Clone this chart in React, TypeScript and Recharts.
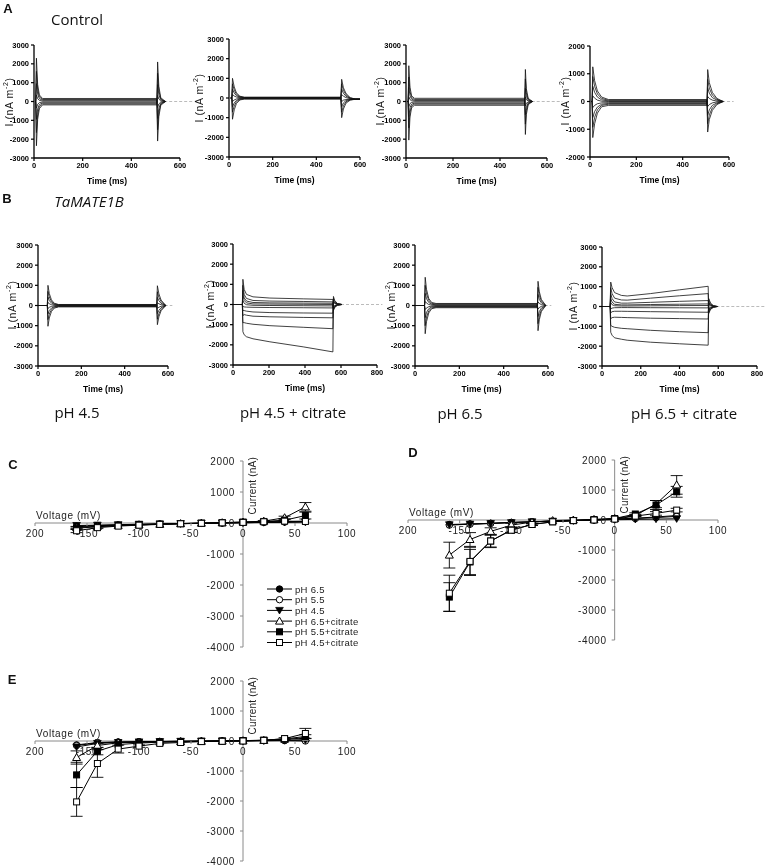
import React from 'react';
import { LineChart, Line, XAxis, YAxis, ReferenceLine, ReferenceDot, ErrorBar } from 'recharts';

// ---- panel A / B : current traces (nA m-2) ----
const a1Times = [5, 7, 10, 15, 22, 35, 505, 508, 513, 521, 540];
const a1Sweeps = [
  [0, 0, 2300, 900, 350, 160, 160, -2100, -800, -200, 0],
  [0, 0, 1600, 650, 250, 110, 110, -1500, -580, -140, 0],
  [0, 0, 950, 400, 150, 70, 70, -900, -350, -90, 0],
  [0, 0, 350, 150, 60, 25, 25, -330, -130, -30, 0],
  [0, 0, -350, -150, -60, -30, -30, 330, 130, 30, 0],
  [0, 0, -950, -400, -160, -80, -80, 900, 350, 90, 0],
  [0, 0, -1650, -680, -270, -130, -130, 1500, 580, 140, 0],
  [0, 0, -2350, -950, -380, -180, -180, 2100, 800, 200, 0],
];

const a2Times = [8, 13, 16, 24, 34, 50, 70, 512, 516, 524, 536, 555, 580, 600];
const a2Sweeps = [
  [0, 0, 1000, 560, 260, 90, 40, 40, -1000, -560, -260, -110, -60, -60],
  [0, 0, 720, 400, 190, 65, 30, 30, -720, -400, -190, -90, -60, -60],
  [0, 0, 450, 250, 120, 40, 15, 15, -450, -250, -130, -75, -60, -60],
  [0, 0, 180, 100, 50, 15, 5, 5, -180, -110, -80, -65, -60, -60],
  [0, 0, -180, -100, -50, -20, -10, -10, 180, 90, 20, -40, -60, -60],
  [0, 0, -450, -250, -120, -45, -25, -25, 450, 240, 90, -20, -60, -60],
  [0, 0, -720, -400, -190, -70, -40, -40, 720, 390, 160, 0, -60, -60],
  [0, 0, -1080, -600, -280, -100, -55, -55, 950, 520, 230, 20, -60, -60],
];

const a3Times = [5, 9, 12, 17, 24, 36, 505, 508, 512, 520, 538];
const a3Sweeps = [
  [0, 0, 1900, 750, 300, 170, 170, -1750, -700, -170, 0],
  [0, 0, 1300, 520, 210, 110, 110, -1200, -480, -120, 0],
  [0, 0, 750, 300, 120, 60, 60, -700, -280, -70, 0],
  [0, 0, 250, 100, 40, 20, 20, -230, -90, -25, 0],
  [0, 0, -280, -110, -50, -30, -30, 250, 100, 25, 0],
  [0, 0, -800, -320, -140, -90, -90, 700, 280, 70, 0],
  [0, 0, -1400, -560, -230, -140, -140, 1200, 480, 120, 0],
  [0, 0, -2050, -820, -330, -200, -200, 1700, 680, 170, 0],
];

const a4Times = [5, 9, 12, 20, 32, 50, 80, 505, 508, 515, 528, 548, 575];
const a4Sweeps = [
  [0, 0, 1250, 750, 380, 160, 70, 70, -1100, -650, -320, -110, 0],
  [0, 0, 900, 540, 270, 110, 45, 45, -800, -480, -230, -80, 0],
  [0, 0, 550, 330, 160, 60, 20, 20, -500, -300, -140, -50, 0],
  [0, 0, 200, 120, 50, 10, 0, 0, -180, -110, -50, -15, 0],
  [0, 0, -220, -140, -80, -50, -40, -40, 180, 110, 50, 15, 0],
  [0, 0, -580, -360, -200, -100, -70, -70, 500, 300, 140, 50, 0],
  [0, 0, -930, -570, -300, -140, -100, -100, 800, 480, 230, 80, 0],
  [0, 0, -1300, -800, -420, -190, -140, -140, 1150, 680, 330, 110, 0],
];

const b1Times = [0, 43, 46, 52, 62, 75, 95, 548, 551, 558, 568, 590];
const b1Sweeps = [
  [0, 0, 1000, 600, 280, 110, 50, 50, -950, -560, -260, 0],
  [0, 0, 700, 420, 200, 80, 35, 35, -680, -400, -190, 0],
  [0, 0, 420, 250, 120, 50, 20, 20, -400, -240, -110, 0],
  [0, 0, 150, 90, 40, 15, 5, 5, -140, -85, -40, 0],
  [0, 0, -150, -90, -45, -20, -10, -10, 140, 85, 40, 0],
  [0, 0, -420, -250, -130, -60, -30, -30, 400, 240, 110, 0],
  [0, 0, -700, -420, -210, -90, -50, -50, 680, 400, 190, 0],
  [0, 0, -1030, -620, -300, -130, -70, -70, 980, 580, 270, 0],
];

const b2Times = [0, 52, 55, 62, 75, 111, 205, 390, 555, 558, 565, 580, 605];
const b2Sweeps = [
  [0, 0, 1250, 750, 500, 380, 320, 280, 250, -300, -150, -40, 0],
  [0, 0, 950, 500, 300, 200, 170, 150, 130, -250, -120, -30, 0],
  [0, 0, 700, 330, 170, 100, 80, 70, 60, -200, -100, -20, 0],
  [0, 0, 450, 200, 80, 30, 20, 10, 0, -150, -70, -15, 0],
  [0, 0, 200, 60, -10, -40, -50, -60, -70, -100, -50, -10, 0],
  [0, 0, -100, -120, -130, -140, -150, -160, -170, 100, 50, 10, 0],
  [0, 0, -300, -300, -330, -370, -400, -420, -430, 150, 80, 20, 0],
  [0, 0, -550, -500, -530, -580, -610, -640, -660, 200, 100, 25, 0],
  [0, 0, -900, -900, -930, -980, -1050, -1130, -1200, 300, 150, 35, 0],
  [0, 0, -1350, -1500, -1600, -1700, -1850, -2100, -2350, 400, 200, 50, 0],
];

const b3Times = [0, 43, 46, 52, 62, 75, 95, 552, 555, 561, 570, 590];
const b3Sweeps = [
  [0, 0, 1400, 800, 350, 150, 100, 100, -1250, -700, -300, 0],
  [0, 0, 1000, 570, 250, 110, 70, 70, -900, -500, -220, 0],
  [0, 0, 600, 340, 150, 60, 35, 35, -550, -300, -130, 0],
  [0, 0, 200, 120, 50, 20, 10, 10, -180, -100, -45, 0],
  [0, 0, -200, -120, -60, -30, -20, -20, 180, 100, 45, 0],
  [0, 0, -600, -340, -160, -70, -50, -50, 550, 300, 130, 0],
  [0, 0, -1000, -570, -260, -120, -80, -80, 900, 500, 220, 0],
  [0, 0, -1400, -800, -370, -160, -110, -110, 1200, 680, 300, 0],
];

const b4Times = [0, 42, 45, 52, 65, 100, 130, 250, 400, 548, 551, 560, 575, 595];
const b4Sweeps = [
  [0, 0, 1230, 950, 700, 560, 530, 650, 840, 1020, -350, -150, -40, 0],
  [0, 0, 950, 650, 420, 330, 320, 420, 540, 650, -280, -120, -30, 0],
  [0, 0, 650, 400, 230, 170, 170, 210, 260, 300, -200, -90, -20, 0],
  [0, 0, 400, 220, 110, 80, 80, 100, 115, 130, -150, -60, -15, 0],
  [0, 0, 200, 90, 40, 25, 25, 35, 45, 50, -100, -40, -10, 0],
  [0, 0, -120, -80, -60, -55, -55, -60, -65, -70, 100, 40, 10, 0],
  [0, 0, -320, -260, -240, -240, -245, -260, -275, -290, 150, 60, 15, 0],
  [0, 0, -620, -560, -540, -550, -560, -590, -610, -630, 200, 90, 20, 0],
  [0, 0, -950, -1000, -1050, -1100, -1120, -1200, -1270, -1320, 300, 130, 30, 0],
  [0, 0, -1300, -1450, -1580, -1650, -1700, -1800, -1880, -1950, 400, 180, 40, 0],
];

const timeTicks600 = [0, 200, 400, 600];
const timeTicks800 = [0, 200, 400, 600, 800];
const iTicks3000 = [-3000, -2000, -1000, 0, 1000, 2000, 3000];
const iTicks2000 = [-2000, -1000, 0, 1000, 2000];

// ---- panels C, D, E : I-V curves (nA) ----
const voltages = [-160, -140, -120, -100, -80, -60, -40, -20, 0, 20, 40, 60];
const voltTicks = [-200, -150, -100, -50, 0, 50, 100];
const voltTickLabels = ['200', '-150', '-100', '-50', '0', '50', '100'];
const ivTicks = [2000, 1000, 0, -1000, -2000, -3000, -4000];
const seriesNames = ['pH 6.5', 'pH 5.5', 'pH 4.5', 'pH 6.5+citrate', 'pH 5.5+citrate', 'pH 4.5+citrate'];

const cPh65 = [-120, -90, -70, -50, -35, -20, -10, 0, 10, 20, 40, 60];
const cPh55 = [-100, -80, -60, -45, -30, -20, -10, 0, 10, 20, 30, 40];
const cPh45 = [-80, -70, -55, -40, -30, -20, -10, 0, 10, 15, 20, 30];
const cPh65Cit = [-150, -110, -80, -60, -40, -20, -5, 10, 30, 60, 170, 520];
const cPh55Cit = [-170, -120, -85, -60, -40, -20, -5, 10, 30, 50, 90, 240];
const cPh45Cit = [-250, -150, -100, -70, -45, -25, -10, 5, 20, 40, 60, 50];
const cErr65Cit = [40, 0, 0, 0, 0, 0, 0, 0, 0, 20, 50, 140];
const cErr55Cit = [40, 0, 0, 0, 0, 0, 0, 0, 0, 0, 40, 110];
const cErr45Cit = [60, 30, 0, 0, 0, 0, 0, 0, 0, 0, 0, 0];

const dPh65 = [-150, -130, -110, -80, -60, -40, -20, 0, 30, 60, 100, 150];
const dPh55 = [-170, -140, -110, -80, -60, -40, -20, 0, 30, 50, 80, 120];
const dPh45 = [-160, -140, -120, -90, -60, -40, -20, 0, 10, 20, 30, 40];
const dPh65Cit = [-1170, -650, -380, -170, -70, -20, 0, 20, 50, 150, 530, 1170];
const dPh55Cit = [-2570, -1400, -700, -330, -150, -60, -20, 10, 50, 200, 500, 940];
const dPh45Cit = [-2440, -1380, -700, -340, -150, -60, -20, 0, 30, 130, 220, 330];
const dErr65Cit = [430, 230, 120, 60, 0, 0, 0, 0, 0, 30, 120, 310];
const dErr55Cit = [480, 420, 200, 80, 30, 0, 0, 0, 0, 40, 150, 180];
const dErr45Cit = [600, 470, 220, 80, 30, 0, 0, 0, 0, 20, 60, 60];

const ePh65 = [-130, -50, -30, -20, -15, -10, -5, 0, 10, 20, 30, 40];
const ePh55 = [-150, -60, -40, -30, -20, -10, -5, 0, 10, 10, 10, 0];
const ePh45 = [-200, -80, -50, -30, -20, -10, -5, 0, 5, 10, 20, 30];
const ePh65Cit = [-550, -150, -60, -40, -30, -20, -10, 0, 10, 20, 60, 100];
const ePh55Cit = [-1130, -340, -120, -70, -40, -25, -10, 0, 10, 30, 70, 150];
const ePh45Cit = [-2030, -750, -270, -170, -80, -50, -20, -10, 0, 20, 80, 250];
const eErr65Cit = [220, 60, 0, 0, 0, 0, 0, 0, 0, 0, 0, 0];
const eErr55Cit = [420, 120, 0, 0, 0, 0, 0, 0, 0, 0, 0, 60];
const eErr45Cit = [480, 460, 130, 40, 0, 0, 0, 0, 0, 0, 30, 170];

const GP_FONT = "'Liberation Sans', Arial, sans-serif";
const TEXT_FONT = "'Open Sans', 'Noto Sans', sans-serif";

const tickStyle = { fontSize: 7.5, fontWeight: 700, fill: '#000', fontFamily: GP_FONT };

const TracePanel = ({ times, sweeps, box, xMax, yMax, dash, yLab }) => {
  const [L, R, T, B] = box;
  const mL = 40, mR = 30, mT = 10, xH = 30;
  const data = times.map((t, i) => {
    const row = { t };
    sweeps.forEach((s, k) => { row['s' + k] = s[i]; });
    return row;
  });
  return (
    <>
      <div style={{ position: 'absolute', left: L - mL, top: T - mT }}>
        <LineChart width={R - L + mL + mR} height={B - T + mT + xH} data={data}
          margin={{ top: mT, right: mR, left: 0, bottom: 0 }}>
          <XAxis type="number" dataKey="t" domain={[0, xMax]} ticks={xMax === 800 ? timeTicks800 : timeTicks600}
            allowDataOverflow height={xH} tickSize={3} tickMargin={2}
            axisLine={{ stroke: '#000', strokeWidth: 1.3 }} tickLine={{ stroke: '#000', strokeWidth: 1.2 }}
            tick={tickStyle}
            label={{ value: 'Time (ms)', position: 'insideBottom', offset: 4,
              style: { fontSize: 8.5, fontWeight: 700, fill: '#000', fontFamily: GP_FONT } }} />
          <YAxis type="number" domain={[-yMax, yMax]} ticks={yMax === 2000 ? iTicks2000 : iTicks3000}
            allowDataOverflow width={mL} tickSize={3} tickMargin={2}
            axisLine={{ stroke: '#000', strokeWidth: 1.3 }} tickLine={{ stroke: '#000', strokeWidth: 1.2 }}
            tick={tickStyle} />
          {dash && (
            <ReferenceLine segment={[{ x: dash[0], y: 0 }, { x: dash[1], y: 0 }]} ifOverflow="visible"
              stroke="#aaa" strokeWidth={0.8} strokeDasharray="3 2" />
          )}
          {sweeps.map((_, k) => (
            <Line key={k} type="linear" dataKey={'s' + k} stroke="#111" strokeWidth={0.8}
              dot={false} isAnimationActive={false} />
          ))}
        </LineChart>
      </div>
      <div style={{ position: 'absolute', left: yLab[0], top: yLab[1], transform: 'translate(-50%, -50%) rotate(-90deg)',
        fontSize: 10.5, letterSpacing: 0.6, whiteSpace: 'nowrap', fontFamily: GP_FONT, color: '#111', lineHeight: 1 }}>
        I (nA m<sup style={{ fontSize: 7 }}>-2</sup>)
      </div>
    </>
  );
};

const Marker = ({ kind, cx, cy }) => {
  const s = 3;
  if (kind === 'circleFill' || kind === 'circleOpen')
    return <circle cx={cx} cy={cy} r={3.2} fill={kind === 'circleFill' ? '#000' : '#fff'} stroke="#000" strokeWidth={1} />;
  if (kind === 'triDown')
    return <polygon points={`${cx - 3.8},${cy - 3} ${cx + 3.8},${cy - 3} ${cx},${cy + 3.6}`} fill="#000" stroke="#000" strokeWidth={0.8} />;
  if (kind === 'triUp')
    return <polygon points={`${cx - 4},${cy + 3} ${cx + 4},${cy + 3} ${cx},${cy - 4}`} fill="#fff" stroke="#000" strokeWidth={1} />;
  return <rect x={cx - s} y={cy - s} width={2 * s} height={2 * s}
    fill={kind === 'sqFill' ? '#000' : '#fff'} stroke="#000" strokeWidth={1} />;
};

const markerKinds = ['circleFill', 'circleOpen', 'triDown', 'triUp', 'sqFill', 'sqOpen'];
const ivKeys = ['p65', 'p55', 'p45', 'p65c', 'p55c', 'p45c'];
const errKeys = [null, null, null, 'e65c', 'e55c', 'e45c'];

const IV_FONT = { fontFamily: GP_FONT, fontSize: 10, fill: '#222', letterSpacing: 0.6 };
const AXIS_GREY = '#8a8a8a';

const IVPanel = ({ series, errs, box }) => {
  const [L, R, T, B] = box;
  const m = 12;
  const data = voltages.map((v, i) => {
    const row = { v };
    ivKeys.forEach((k, j) => { row[k] = series[j][i]; });
    errKeys.forEach((k, j) => { if (k) row[k] = errs[j - 3][i]; });
    return row;
  });
  return (
    <div style={{ position: 'absolute', left: L - m, top: T - m }}>
      <LineChart width={R - L + 2 * m} height={B - T + 2 * m} data={data}
        margin={{ top: m, right: m, left: m, bottom: m }}>
        <XAxis type="number" dataKey="v" domain={[-200, 100]} hide allowDataOverflow />
        <YAxis type="number" domain={[-4000, 2000]} hide allowDataOverflow />
        <ReferenceLine y={0} stroke={AXIS_GREY} strokeWidth={1} />
        <ReferenceLine x={0} stroke={AXIS_GREY} strokeWidth={1} />
        {voltTicks.map((v, i) => (
          <ReferenceDot key={'x' + v} x={v} y={0} r={0} ifOverflow="visible"
            shape={(p) => (
              <g>
                <line x1={p.cx} y1={p.cy} x2={p.cx} y2={p.cy + 3} stroke={AXIS_GREY} />
                <text x={p.cx} y={p.cy + 14} textAnchor="middle" style={IV_FONT}>{voltTickLabels[i]}</text>
              </g>
            )} />
        ))}
        {ivTicks.map((v) => (
          <ReferenceDot key={'y' + v} x={0} y={v} r={0} ifOverflow="visible"
            shape={(p) => (
              <g>
                <line x1={p.cx - 3} y1={p.cy} x2={p.cx} y2={p.cy} stroke={AXIS_GREY} />
                <text x={p.cx - 8} y={p.cy + 3.5} textAnchor="end" style={IV_FONT}>{v}</text>
              </g>
            )} />
        ))}
        <ReferenceDot x={-200} y={0} r={0} ifOverflow="visible"
          shape={(p) => <text x={p.cx + 1} y={p.cy - 4} style={IV_FONT}>Voltage (mV)</text>} />
        <ReferenceDot x={0} y={2000} r={0} ifOverflow="visible"
          shape={(p) => (
            <text transform={`translate(${p.cx + 13},${p.cy - 4}) rotate(-90)`} textAnchor="end"
              style={{ ...IV_FONT, letterSpacing: 0.2 }}>Current (nA)</text>
          )} />
        {ivKeys.map((k, j) => (
          <Line key={k} type="linear" dataKey={k} stroke="#000" strokeWidth={1} isAnimationActive={false}
            dot={(p) => <Marker key={k + p.index} kind={markerKinds[j]} cx={p.cx} cy={p.cy} />}>
            {errKeys[j] && <ErrorBar dataKey={errKeys[j]} width={6} stroke="#000" strokeWidth={0.9} />}
          </Line>
        ))}
      </LineChart>
    </div>
  );
};

const IVLegend = ({ left, top }) => (
  <svg style={{ position: 'absolute', left, top }} width={110} height={64}>
    {seriesNames.map((name, j) => {
      const y = 5 + j * 10.7;
      return (
        <g key={name}>
          <line x1={0} y1={y} x2={25} y2={y} stroke="#000" strokeWidth={1} />
          <Marker kind={markerKinds[j]} cx={12.5} cy={y} />
          <text x={28} y={y + 3.5} style={{ ...IV_FONT, fontSize: 9.5, letterSpacing: 0.3 }}>{name}</text>
        </g>
      );
    })}
  </svg>
);

const tracePanels = [
  { times: a1Times, sweeps: a1Sweeps, box: [34, 180, 45, 158], xMax: 600, yMax: 3000, dash: [535, 660], yLab: [8, 102] },
  { times: a2Times, sweeps: a2Sweeps, box: [229, 360, 39, 157], xMax: 600, yMax: 3000, dash: null, yLab: [198, 98] },
  { times: a3Times, sweeps: a3Sweeps, box: [406, 547, 45, 158], xMax: 600, yMax: 3000, dash: [535, 665], yLab: [379, 101] },
  { times: a4Times, sweeps: a4Sweeps, box: [590, 729, 46, 157], xMax: 600, yMax: 2000, dash: [570, 620], yLab: [564, 101] },
  { times: b1Times, sweeps: b1Sweeps, box: [38, 168, 245, 366], xMax: 600, yMax: 3000, dash: [585, 620], yLab: [11, 305] },
  { times: b2Times, sweeps: b2Sweeps, box: [233, 377, 244, 365], xMax: 800, yMax: 3000, dash: [600, 830], yLab: [209, 304] },
  { times: b3Times, sweeps: b3Sweeps, box: [415, 548, 245, 366], xMax: 600, yMax: 3000, dash: [585, 615], yLab: [390, 305] },
  { times: b4Times, sweeps: b4Sweeps, box: [602, 757, 247, 366], xMax: 800, yMax: 3000, dash: [590, 840], yLab: [572, 306] },
];

const textAt = (x, y, content, style) => (
  <div style={{ position: 'absolute', left: x, top: y, transform: 'translate(-50%, -50%)', whiteSpace: 'nowrap',
    lineHeight: 1, color: '#111', ...style }}>{content}</div>
);

const panelLetter = { fontFamily: GP_FONT, fontWeight: 700, fontSize: 13 };
const caption = { fontFamily: TEXT_FONT, fontSize: 15 };

export default function App() {
  return (
    <div style={{ position: 'absolute', left: 0, top: 0, width: 765, height: 865, background: '#fff',
      overflow: 'hidden', filter: 'grayscale(1)' }}>
      {tracePanels.map((p, i) => <TracePanel key={i} {...p} />)}

      {textAt(8, 8, 'A', panelLetter)}
      {textAt(77, 19, 'Control', caption)}
      {textAt(7, 198, 'B', panelLetter)}
      {textAt(89, 201, 'TaMATE1B', { ...caption, fontStyle: 'italic' })}
      {textAt(77, 412, 'pH 4.5', caption)}
      {textAt(293, 412, 'pH 4.5 + citrate', caption)}
      {textAt(460, 413, 'pH 6.5', caption)}
      {textAt(684, 413, 'pH 6.5 + citrate', caption)}

      {textAt(13, 464, 'C', panelLetter)}
      {textAt(413, 452, 'D', panelLetter)}
      {textAt(12, 679, 'E', panelLetter)}

      <IVPanel box={[35, 347, 461, 647]}
        series={[cPh65, cPh55, cPh45, cPh65Cit, cPh55Cit, cPh45Cit]}
        errs={[cErr65Cit, cErr55Cit, cErr45Cit]} />
      <IVLegend left={267} top={584} />
      <IVPanel box={[408, 718, 460, 640]}
        series={[dPh65, dPh55, dPh45, dPh65Cit, dPh55Cit, dPh45Cit]}
        errs={[dErr65Cit, dErr55Cit, dErr45Cit]} />
      <IVPanel box={[35, 347, 681, 861]}
        series={[ePh65, ePh55, ePh45, ePh65Cit, ePh55Cit, ePh45Cit]}
        errs={[eErr65Cit, eErr55Cit, eErr45Cit]} />
    </div>
  );
}
